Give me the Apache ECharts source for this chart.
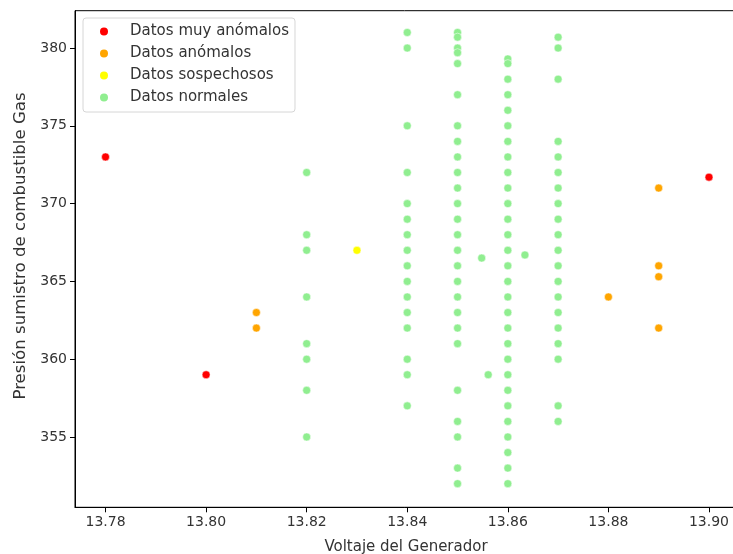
<!DOCTYPE html>
<html>
<head>
<meta charset="utf-8">
<script src="https://cdn.jsdelivr.net/npm/echarts@6/dist/echarts.min.js"></script>
<style>
    html, body { margin: 0; padding: 0; background: #fff; }
    #chart { width: 733px; height: 554px; }
</style>
</head>
<body>
<div id="chart"></div>
<script>
// tick labels
const voltTicks = [13.78, 13.80, 13.82, 13.84, 13.86, 13.88, 13.90];
const presTicks = [355, 360, 365, 370, 375, 380];

// [voltaje, presión]
const muyAnomalos = [[13.78, 373], [13.80, 359], [13.90, 371.7]];
const anomalos = [[13.81, 363], [13.81, 362], [13.88, 364], [13.89, 371], [13.89, 366], [13.89, 365.3], [13.89, 362]];
const sospechosos = [[13.83, 367]];

// normal data, grouped by voltage column
const normal1382 = [372, 368, 367, 364, 361, 360, 358, 355];
const normal1384 = [381, 380, 375, 372, 370, 369, 368, 367, 366, 365, 364, 363, 362, 360, 359, 357];
const normal1385 = [381, 380.7, 380, 379.7, 379, 377, 375, 374, 373, 372, 371, 370, 369, 368, 367, 366,
    365, 364, 363, 362, 361, 358, 356, 355, 353, 352];
const normal1386 = [379.3, 379, 378, 377, 376, 375, 374, 373, 372, 371, 370, 369, 368, 367, 366, 365,
    364, 363, 362, 361, 360, 359, 358, 357, 356, 355, 354, 353, 352];
const normal1387 = [380.7, 380, 378, 374, 373, 372, 371, 370, 369, 368, 367, 366, 365, 364, 363, 362,
    361, 360, 357, 356];
const normalSueltos = [[13.8548, 366.5], [13.8561, 359], [13.8634, 366.7]];

const normales = []
    .concat(normal1382.map(v => [13.82, v]))
    .concat(normal1384.map(v => [13.84, v]))
    .concat(normal1385.map(v => [13.85, v]))
    .concat(normal1386.map(v => [13.86, v]))
    .concat(normal1387.map(v => [13.87, v]))
    .concat(normalSueltos);

const font = 'DejaVu Sans';

function serie(name, data, color) {
    return {
        name: name,
        type: 'scatter',
        data: data,
        symbolSize: 8,
        itemStyle: {
            color: color,
            opacity: 1,
            borderColor: '#fff',
            borderWidth: 0.5
        },
        emphasis: { disabled: true },
        animation: false
    };
}

const chart = echarts.init(document.getElementById('chart'));
chart.setOption({
    backgroundColor: '#fff',
    textStyle: { fontFamily: font },
    grid: {
        left: 75,
        width: 662,
        top: 10.7,
        bottom: 46.7,
        outerBoundsMode: 'none',
        containLabel: false,
        show: true,
        borderColor: '#000',
        borderWidth: 1
    },
    legend: {
        orient: 'vertical',
        left: 83,
        top: 18,
        padding: [6, 6, 7, 15],
        itemGap: 7,
        itemWidth: 10,
        itemHeight: 10,
        icon: 'circle',
        backgroundColor: '#fff',
        borderColor: '#d6d6d6',
        borderWidth: 1,
        borderRadius: 3,
        textStyle: {
            fontFamily: font,
            fontSize: 15,
            color: '#333',
            padding: [0, 0, 0, 16]
        },
        data: ['Datos muy anómalos', 'Datos anómalos', 'Datos sospechosos', 'Datos normales']
    },
    xAxis: {
        type: 'value',
        min: 13.77393,
        max: 13.90557,
        name: 'Voltaje del Generador',
        nameLocation: 'middle',
        nameGap: 32,
        nameTextStyle: { fontFamily: font, fontSize: 15, color: '#333' },
        splitLine: { show: false },
        axisLine: { show: true, onZero: false, lineStyle: { color: '#000', width: 1 } },
        axisTick: {
            show: true,
            length: 5,
            customValues: voltTicks,
            lineStyle: { color: '#000' }
        },
        axisLabel: {
            customValues: voltTicks,
            fontFamily: font,
            fontSize: 14,
            color: '#333',
            margin: 8,
            formatter: v => v.toFixed(2)
        }
    },
    yAxis: {
        type: 'value',
        min: 350.48,
        max: 382.4,
        name: 'Presión sumistro de combustible Gas',
        nameLocation: 'middle',
        nameGap: 46,
        nameTextStyle: { fontFamily: font, fontSize: 16.6, color: '#333', padding: [0, 0, 0, 26] },
        splitLine: { show: false },
        axisLine: { show: true, onZero: false, lineStyle: { color: '#000', width: 1 } },
        axisTick: {
            show: true,
            length: 5,
            customValues: presTicks,
            lineStyle: { color: '#000' }
        },
        axisLabel: {
            customValues: presTicks,
            fontFamily: font,
            fontSize: 14,
            color: '#333',
            margin: 8
        }
    },
    series: [
        serie('Datos muy anómalos', muyAnomalos, '#ff0000'),
        serie('Datos anómalos', anomalos, '#ffa500'),
        serie('Datos sospechosos', sospechosos, '#ffff00'),
        serie('Datos normales', normales, '#90ee90')
    ]
});
</script>
</body>
</html>
